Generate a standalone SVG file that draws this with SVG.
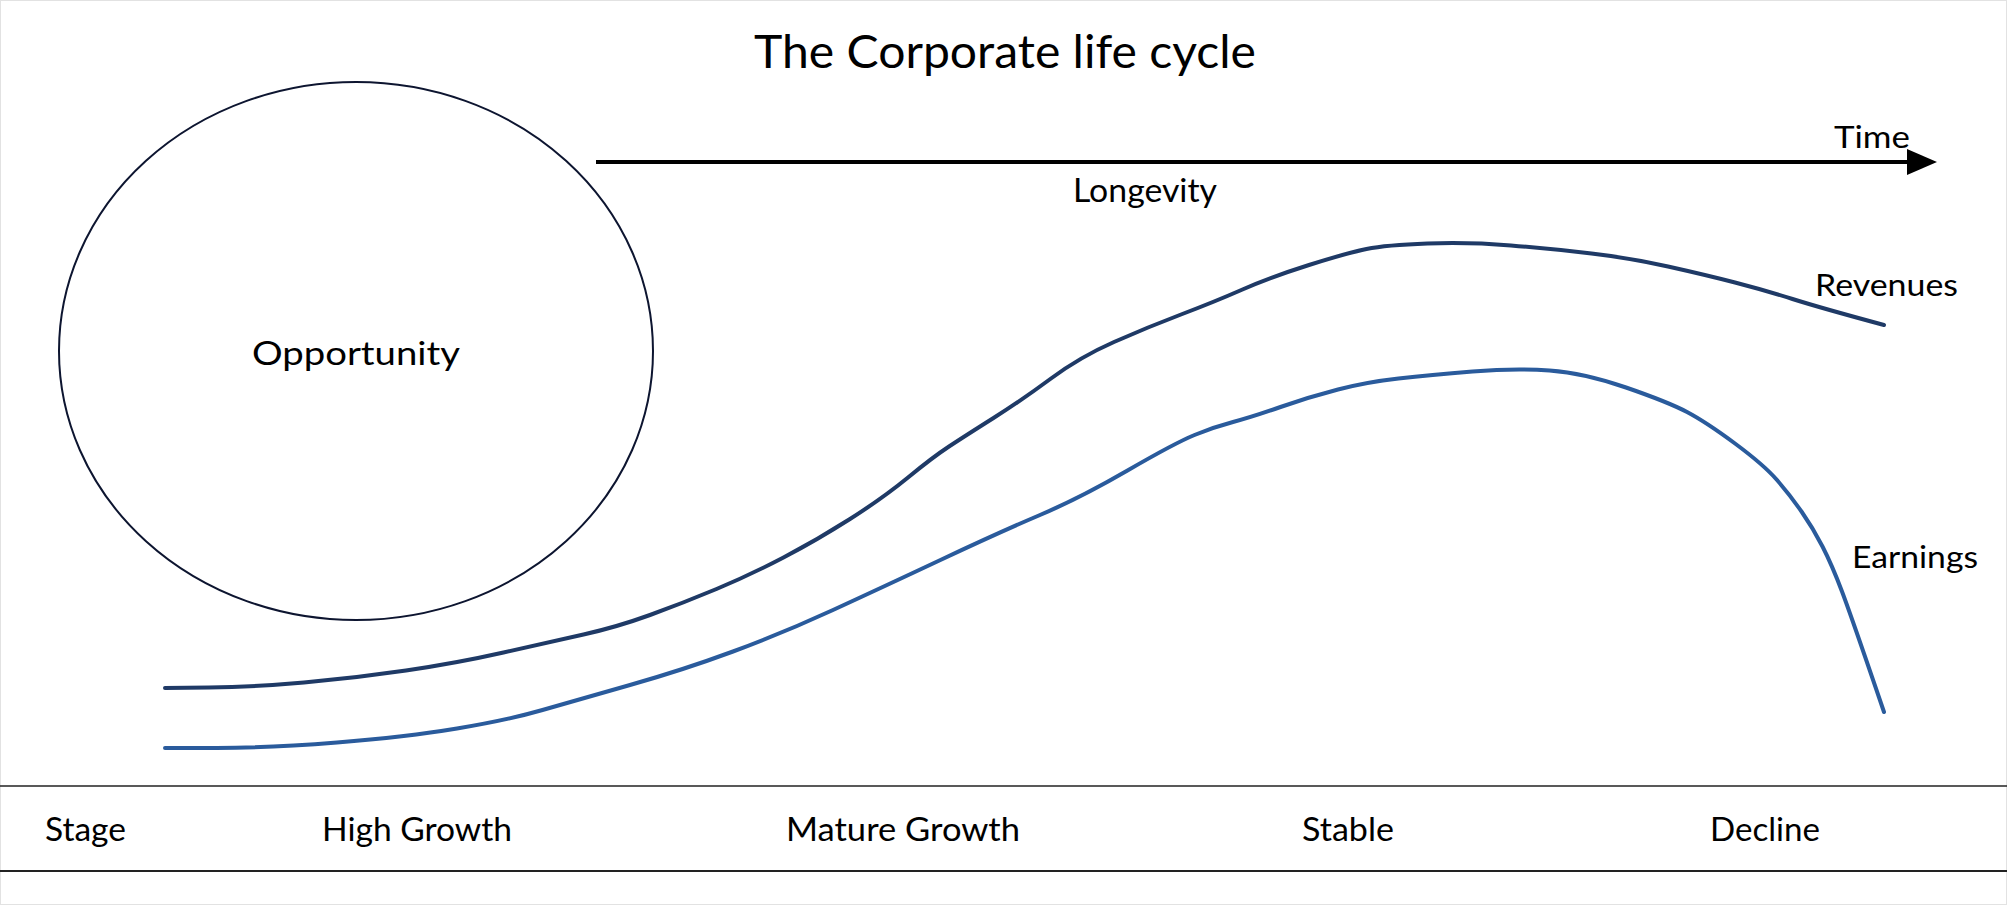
<svg xmlns="http://www.w3.org/2000/svg" width="2007" height="905" viewBox="0 0 2007 905">
  <defs>
    <style>
      .lbl { font-family: Lato, "Open Sans", "Liberation Sans", sans-serif; fill: #000; font-size: 32px; }
      .title { font-size: 46px; }
      .small { font-size: 30px; }
      .curve { fill: none; stroke-width: 4; stroke-linecap: round; stroke-linejoin: round; }
      .rev { stroke: #1f3a66; }
      .earn { stroke: #2a5b9c; }
      .rule { stroke: #222; fill: none; }
    </style>
    <marker id="arrowhead" markerUnits="userSpaceOnUse" markerWidth="30" markerHeight="26" viewBox="0 0 30 26" refX="18" refY="13" orient="auto">
      <path d="M0,0 L30,13 L0,26 Z" fill="#000"/>
    </marker>
  </defs>

  <rect x="0" y="0" width="2007" height="905" fill="#fff"/>
  <rect x="0.5" y="0.5" width="2006" height="904" fill="none" stroke="#e2e2e2" stroke-width="1"/>

  <g id="title">
    <text class="lbl title" x="754" y="68" textLength="502" lengthAdjust="spacingAndGlyphs">The Corporate life cycle</text>
  </g>

  <g id="opportunity">
    <ellipse cx="356" cy="351" rx="297" ry="269" fill="none" stroke="#0d1530" stroke-width="2"/>
    <text class="lbl" x="252" y="365" textLength="208" lengthAdjust="spacingAndGlyphs">Opportunity</text>
  </g>

  <g id="connectors">
    <line x1="596" y1="162" x2="1925" y2="162" stroke="#000" stroke-width="4" marker-end="url(#arrowhead)"/>
  </g>

  <g id="time-axis-labels">
    <text class="lbl small" x="1834" y="148" textLength="76" lengthAdjust="spacingAndGlyphs">Time</text>
    <text class="lbl" x="1073" y="202" textLength="144" lengthAdjust="spacingAndGlyphs">Longevity</text>
  </g>

  <g id="revenues">
    <path class="curve rev" d="M165,688 L209,687.5 Q253,687 304,682.5 Q355,678 406,670.5 Q457,663 503.5,652.5 Q550,642 583.5,634.5 Q617,627 650,615 Q683,603 716.5,589 Q750,575 783.5,557.5 Q817,540 850,519 Q883,498 908,477.5 Q933,457 949,446.5 Q965,436 993.5,418 Q1022,400 1051,378.5 Q1080,357 1114,342 Q1148,327 1181,314.5 Q1214,302 1242.5,289.5 Q1271,277 1309,265 Q1347,253 1366.5,249 Q1386,245 1427.5,243.5 Q1469,242 1511,245.5 Q1553,249 1591.5,253.5 Q1630,258 1668,266.5 Q1706,275 1735,282.5 Q1764,290 1792.5,299 Q1821,308 1884,325"/>
    <text class="lbl small" x="1815" y="296" textLength="143" lengthAdjust="spacingAndGlyphs">Revenues</text>
  </g>

  <g id="earnings">
    <path class="curve earn" d="M165,748 L216.5,748 Q268,748 337,742.5 Q406,737 457,728.5 Q508,720 542.5,710 Q577,700 630,685 Q683,670 733,651.5 Q783,633 833,610 Q883,587 941.5,559.5 Q1000,532 1040,515 Q1080,498 1127.5,470.5 Q1175,443 1194.5,435 Q1214,427 1233,422 Q1252,417 1280.5,407 Q1309,397 1338,389.5 Q1367,382 1398.5,378.5 Q1430,375 1472.5,371.5 Q1515,368 1549.5,370.5 Q1584,373 1626,387.5 Q1668,402 1687,412 Q1706,422 1735,443.5 Q1764,465 1777,480 Q1790,495 1801.5,511.5 Q1813,528 1822.5,546.5 Q1832,565 1842,591.5 Q1852,618 1884,712"/>
    <text class="lbl small" x="1852" y="568" textLength="126" lengthAdjust="spacingAndGlyphs">Earnings</text>
  </g>

  <g id="stage-table">
    <line class="rule" x1="0" y1="786" x2="2007" y2="786" stroke-width="1.5"/>
    <line class="rule" x1="0" y1="871" x2="2007" y2="871" stroke-width="2" stroke="#444"/>
    <text class="lbl" x="45" y="841" textLength="81" lengthAdjust="spacingAndGlyphs">Stage</text>
    <text class="lbl" x="322" y="841" textLength="190" lengthAdjust="spacingAndGlyphs">High Growth</text>
    <text class="lbl" x="786" y="841" textLength="234" lengthAdjust="spacingAndGlyphs">Mature Growth</text>
    <text class="lbl" x="1302" y="841" textLength="92" lengthAdjust="spacingAndGlyphs">Stable</text>
    <text class="lbl" x="1710" y="841" textLength="110" lengthAdjust="spacingAndGlyphs">Decline</text>
  </g>
</svg>
